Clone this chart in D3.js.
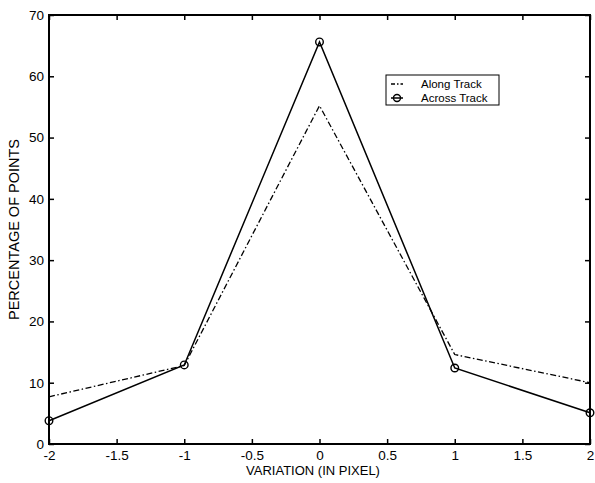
<!DOCTYPE html>
<html><head><meta charset="utf-8">
<script src="https://cdn.jsdelivr.net/npm/d3@7"></script>
<style>body{margin:0;background:#fff}svg{display:block}text{font-family:"Liberation Sans",Arial,sans-serif;fill:#000}</style>
</head><body><svg id="c" width="595" height="483"></svg>
<script>
const variation = [-2, -1, 0, 1, 2];
const alongTrack = [7.7, 12.8, 55.2, 14.6, 10.0];
const acrossTrack = [3.8, 12.9, 65.6, 12.4, 5.1];
const xTicks = [-2, -1.5, -1, -0.5, 0, 0.5, 1, 1.5, 2];
const yTicks = [0, 10, 20, 30, 40, 50, 60, 70];
const seriesNames = ["Along Track", "Across Track"];

const svg = d3.select("#c");
const L = 49, R = 590, T = 15, B = 444;
const x = d3.scaleLinear().domain([-2, 2]).range([L, R]);
const y = d3.scaleLinear().domain([0, 70]).range([B, T]);
const fmt = d => String(d);

// axes with inward ticks
const tl = 5;
svg.append("g").attr("transform", `translate(0,${B})`)
  .call(d3.axisBottom(x).tickValues(xTicks).tickFormat(fmt).tickSizeInner(-tl).tickSizeOuter(0).tickPadding(6))
  .call(g => { g.select(".domain").remove(); g.selectAll("text").attr("font-size", 13.5).attr("font-family", "Liberation Sans, Arial"); });
svg.append("g").attr("transform", `translate(0,${T})`)
  .call(d3.axisTop(x).tickValues(xTicks).tickFormat("").tickSizeInner(-tl).tickSizeOuter(0))
  .call(g => g.select(".domain").remove());
svg.append("g").attr("transform", `translate(${L},0)`)
  .call(d3.axisLeft(y).tickValues(yTicks).tickFormat(fmt).tickSizeInner(-tl).tickSizeOuter(0).tickPadding(5))
  .call(g => { g.select(".domain").remove(); g.selectAll("text").attr("font-size", 13.5).attr("font-family", "Liberation Sans, Arial"); });
svg.append("g").attr("transform", `translate(${R},0)`)
  .call(d3.axisRight(y).tickValues(yTicks).tickFormat("").tickSizeInner(-tl).tickSizeOuter(0))
  .call(g => g.select(".domain").remove());
svg.selectAll(".tick line").attr("stroke", "#000").attr("stroke-width", 1.5);

svg.append("rect").attr("x", L).attr("y", T).attr("width", R - L).attr("height", B - T)
  .attr("fill", "none").attr("stroke", "#000").attr("stroke-width", 2);

const line = d3.line().x((d, i) => x(variation[i])).y(d => y(d));
svg.append("path").datum(alongTrack).attr("d", line).attr("fill", "none")
  .attr("stroke", "#000").attr("stroke-width", 1.3).attr("stroke-dasharray", "6,2.5,1.5,2.5");
svg.append("path").datum(acrossTrack).attr("d", line).attr("fill", "none")
  .attr("stroke", "#000").attr("stroke-width", 1.5);
svg.selectAll("circle.m").data(acrossTrack).enter().append("circle").attr("class", "m")
  .attr("cx", (d, i) => x(variation[i])).attr("cy", d => y(d)).attr("r", 3.8)
  .attr("fill", "none").attr("stroke", "#000").attr("stroke-width", 1.4);

// titles
svg.append("text").attr("x", 313).attr("y", 475).attr("text-anchor", "middle").attr("font-size", 13)
  .text("VARIATION (IN PIXEL)");
svg.append("text").attr("transform", `translate(19,${(T + B) / 2}) rotate(-90)`).attr("text-anchor", "middle").attr("font-size", 14.5)
  .text("PERCENTAGE OF POINTS");

// legend
const lg = svg.append("g");
lg.append("rect").attr("x", 386).attr("y", 75).attr("width", 113).attr("height", 30)
  .attr("fill", "#fff").attr("stroke", "#000").attr("stroke-width", 1);
const rows = [84, 98];
lg.append("line").attr("x1", 391).attr("x2", 403).attr("y1", rows[0]).attr("y2", rows[0])
  .attr("stroke", "#000").attr("stroke-width", 1.3).attr("stroke-dasharray", "4,2,1.5,2");
lg.append("line").attr("x1", 391).attr("x2", 403).attr("y1", rows[1]).attr("y2", rows[1])
  .attr("stroke", "#000").attr("stroke-width", 1.5);
lg.append("circle").attr("cx", 397).attr("cy", rows[1]).attr("r", 3.5).attr("fill", "none").attr("stroke", "#000").attr("stroke-width", 1.4);
seriesNames.forEach((n, i) => lg.append("text").attr("x", 421).attr("y", rows[i] + 4).attr("font-size", 11.5).text(n));
</script></body></html>
